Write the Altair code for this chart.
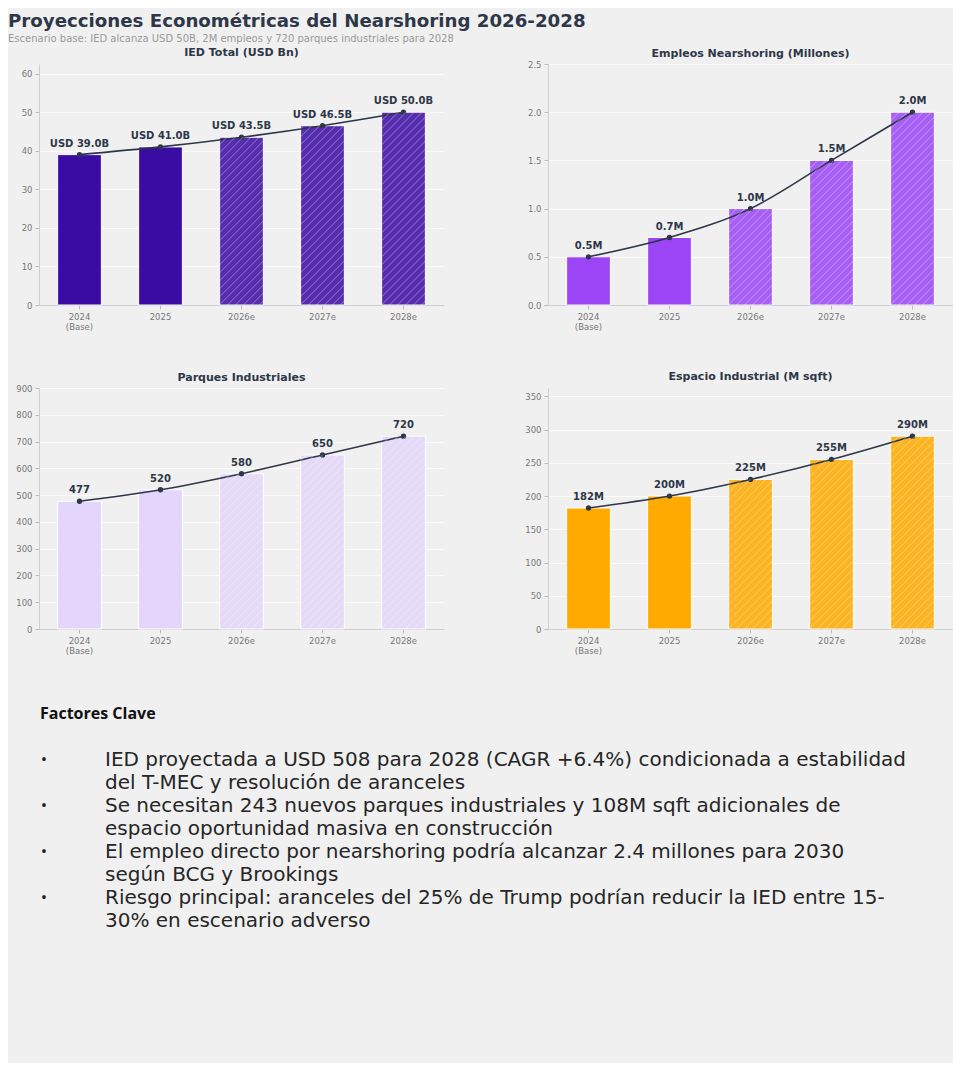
import altair as alt
import pandas as pd

# ---------------- data ----------------
periods = ["2024 (Base)", "2025", "2026e", "2027e", "2028e"]
projected = [False, False, True, True, True]

ied = [39.0, 41.0, 43.5, 46.5, 50.0]
ied_labels = ["USD 39.0B", "USD 41.0B", "USD 43.5B", "USD 46.5B", "USD 50.0B"]

empleos = [0.5, 0.7, 1.0, 1.5, 2.0]
empleos_labels = ["0.5M", "0.7M", "1.0M", "1.5M", "2.0M"]

parques = [477, 520, 580, 650, 720]
parques_labels = ["477", "520", "580", "650", "720"]

espacio = [182, 200, 225, 255, 290]
espacio_labels = ["182M", "200M", "225M", "255M", "290M"]

main_title = "Proyecciones Econométricas del Nearshoring 2026-2028"
main_subtitle = "Escenario base: IED alcanza USD 50B, 2M empleos y 720 parques industriales para 2028"

heading = "Factores Clave"
bullets = [
    ["IED proyectada a USD 508 para 2028 (CAGR +6.4%) condicionada a estabilidad",
     "del T-MEC y resolución de aranceles"],
    ["Se necesitan 243 nuevos parques industriales y 108M sqft adicionales de",
     "espacio oportunidad masiva en construcción"],
    ["El empleo directo por nearshoring podría alcanzar 2.4 millones para 2030",
     "según BCG y Brookings"],
    ["Riesgo principal: aranceles del 25% de Trump podrían reducir la IED entre 15-",
     "30% en escenario adverso"],
]

# ---------------- style ----------------
W, H = 405, 241
BAR = 0.54
FONT = "DejaVu Sans"
DARK = "#2d3748"
BG = "#f0f0f0"


def panel(values, labels, color, ymax, ticks, title, yfmt, min_extent, title_offset):
    df = pd.DataFrame({"period": periods, "value": values, "label": labels,
                       "proj": projected})
    x = alt.X("period:N", sort=periods,
              scale=alt.Scale(paddingInner=1 - BAR, paddingOuter=(1 - BAR) / 2),
              axis=alt.Axis(title=None, labelAngle=0,
                            labelExpr="split(datum.label, ' ')"))
    yscale = alt.Scale(domain=[0, ymax], nice=False, zero=True)
    yaxis = alt.Axis(title=None, values=ticks, format=yfmt, grid=True,
                     minExtent=min_extent)
    y = alt.Y("value:Q", scale=yscale, axis=yaxis)
    base = alt.Chart(df)
    bars = base.mark_bar(color=color, stroke="white", strokeWidth=1).encode(
        x=x, y=y,
        opacity=alt.condition("datum.proj", alt.value(0.85), alt.value(1.0)))
    line = base.mark_line(color=DARK, strokeWidth=1.6, interpolate="monotone").encode(
        x=x, y=y)
    pts = base.mark_circle(color=DARK, size=28, opacity=1).encode(x=x, y=y)
    txt = base.mark_text(font=FONT, fontSize=10, fontWeight="bold", color=DARK,
                         baseline="bottom", dy=-6).encode(x=x, y=y, text="label:N")
    main = alt.layer(bars, line, pts, txt)

    # hatch lines ("//") for projected bars, derived from the bar values
    step = W / len(periods)
    bw = BAR * step
    pxy = H / ymax
    gap = 8.0
    rows = []
    for i, (v, p) in enumerate(zip(values, projected)):
        if not p:
            continue
        bh = v * pxy
        u = -bw + 4
        while u < bh:
            t0 = max(0.0, -u)
            t1 = min(bw, bh - u)
            if t1 > t0 + 0.5:
                rows.append({
                    "hx": i - bw / (2 * step) + t0 / step,
                    "hx2": i - bw / (2 * step) + t1 / step,
                    "value": (u + t0) / pxy,
                    "value2": (u + t1) / pxy,
                })
            u += gap
    hatch_df = pd.DataFrame(rows)
    hatch = alt.Chart(hatch_df).mark_rule(color="white", strokeWidth=0.9,
                                          opacity=0.4).encode(
        x=alt.X("hx:Q", scale=alt.Scale(domain=[-0.5, len(periods) - 0.5], nice=False,
                                        zero=False), axis=None),
        x2="hx2:Q",
        y=alt.Y("value:Q", scale=yscale, axis=yaxis),
        y2="value2:Q",
    )

    return alt.layer(main, hatch).resolve_scale(x="independent").properties(
        width=W, height=H,
        title=alt.TitleParams(title, font=FONT, fontSize=11, fontWeight="bold",
                              color=DARK, offset=title_offset, frame="group"))


p1 = panel(ied, ied_labels, "#3a0ca3", 62.5, [0, 10, 20, 30, 40, 50, 60],
           "IED Total (USD Bn)", "d", 31, 6)
p2 = panel(empleos, empleos_labels, "#9b45f7", 2.5, [0, 0.5, 1.0, 1.5, 2.0, 2.5],
           "Empleos Nearshoring (Millones)", ".1f", 30, 1)
p3 = panel(parques, parques_labels, "#e4d6fa", 900,
           [0, 100, 200, 300, 400, 500, 600, 700, 800, 900],
           "Parques Industriales", "d", 31, 1)
p4 = panel(espacio, espacio_labels, "#ffaa00", 362.5,
           [0, 50, 100, 150, 200, 250, 300, 350],
           "Espacio Industrial (M sqft)", "d", 30, 6)

row1 = alt.hconcat(p1, p2, spacing=74)
row2 = alt.hconcat(p3, p4, spacing=74)
charts = alt.vconcat(row1, row2, spacing=40)

# ---------------- text block ----------------
text_rows = [{"idx": 0, "text": heading, "kind": "head"}]
k = 2
for b in bullets:
    text_rows.append({"idx": k, "text": "•", "kind": "bullet"})
    for j, ln in enumerate(b):
        text_rows.append({"idx": k + j, "text": ln, "kind": "body"})
    k += len(b)
tdf = pd.DataFrame(text_rows)
n_lines = 15
ty = alt.Y("idx:O", axis=None, scale=alt.Scale(domain=list(range(n_lines))))
tbase = alt.Chart(tdf)
head_t = tbase.transform_filter("datum.kind == 'head'").mark_text(
    font="Open Sans", fontSize=16, fontWeight="bold", color="#111111", align="left",
    baseline="middle").encode(x=alt.value(1), y=ty, text="text:N")
bul_t = tbase.transform_filter("datum.kind == 'bullet'").mark_text(
    font="Open Sans", fontSize=17, color="#222222", align="center",
    baseline="middle").encode(x=alt.value(5), y=ty, text="text:N")
body_t = tbase.transform_filter("datum.kind == 'body'").mark_text(
    font="DejaVu Sans", fontSize=20, color="#262626", align="left",
    baseline="middle").encode(x=alt.value(66), y=ty, text="text:N")
text_chart = alt.layer(head_t, bul_t, body_t).properties(width=880, height=alt.Step(23))

chart = alt.vconcat(charts, text_chart, spacing=47).properties(
    title=alt.TitleParams(main_title, subtitle=main_subtitle, anchor="start",
                          font=FONT, fontSize=18.2, fontWeight="bold", color=DARK,
                          subtitleFont=FONT, subtitleFontSize=10,
                          subtitleColor="#9a9a9a", subtitlePadding=3, offset=2),
    background=BG,
    padding={"left": 0, "top": 3, "right": 0, "bottom": 16},
).configure_view(stroke=None).configure_axis(
    labelFont=FONT, labelFontSize=8.5, labelColor="#777777",
    domainColor="#cfcfcf", tickColor="#bbbbbb", tickSize=4, labelPadding=3,
    gridColor="#fbfbfb", gridWidth=1,
).configure_axisX(grid=False)

chart.save("out.html", embed_options={"renderer": "svg", "actions": False})
